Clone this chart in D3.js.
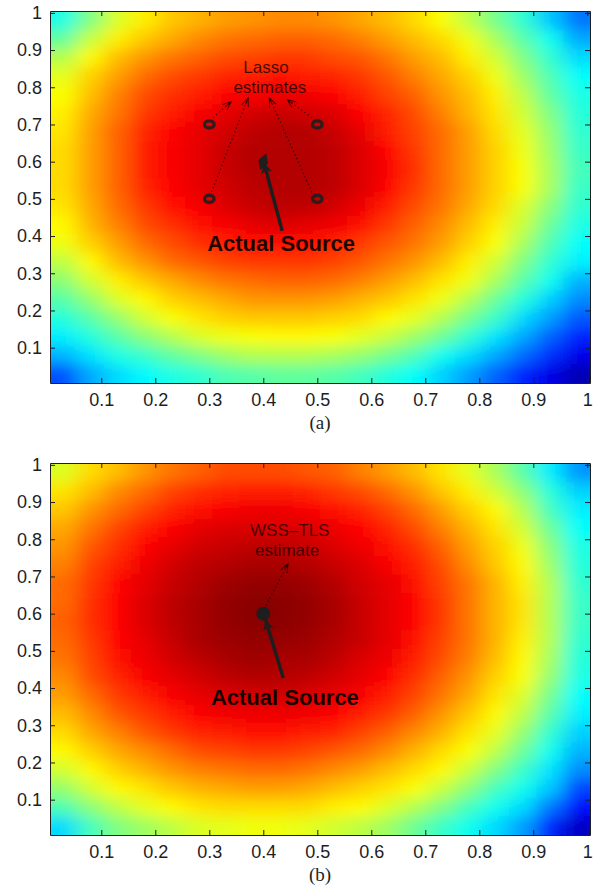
<!DOCTYPE html>
<html>
<head>
<meta charset="utf-8">
<script src="https://cdn.jsdelivr.net/npm/d3@7"></script>
<style>
  body { margin: 0; background: #fff; }
</style>
</head>
<body>
<svg></svg>
<script>
const width = 602;
const height = 896;
const plotLeft = 50;
const plotWidth = 540;
const plotHeight = 372;
const panelTops = [11, 463];
const edgePad = 20;

// grid cell centres (x left to right, y top to bottom), cells are 0.05 wide
const xCenters = [0.03, 0.08, 0.13, 0.18, 0.23, 0.28, 0.33, 0.38, 0.43, 0.48, 0.53, 0.58, 0.63, 0.68, 0.73, 0.78, 0.83, 0.88, 0.93, 0.98];
const yCenters = [0.98, 0.93, 0.88, 0.83, 0.78, 0.73, 0.68, 0.63, 0.58, 0.53, 0.48, 0.43, 0.38, 0.33, 0.28, 0.23, 0.18, 0.13, 0.08, 0.03];
const cellSize = 0.05;

const tickValues = [0.1, 0.2, 0.3, 0.4, 0.5, 0.6, 0.7, 0.8, 0.9, 1];
const tickLabels = ["0.1", "0.2", "0.3", "0.4", "0.5", "0.6", "0.7", "0.8", "0.9", "1"];

// normalised field, one row per yCenters entry
const fieldA = [
  [0.40, 0.50, 0.59, 0.64, 0.68, 0.70, 0.72, 0.73, 0.74, 0.74, 0.73, 0.71, 0.69, 0.66, 0.62, 0.56, 0.49, 0.42, 0.32, 0.24],
  [0.47, 0.57, 0.64, 0.68, 0.71, 0.74, 0.76, 0.77, 0.78, 0.78, 0.77, 0.75, 0.72, 0.69, 0.66, 0.61, 0.54, 0.46, 0.39, 0.29],
  [0.55, 0.63, 0.69, 0.73, 0.76, 0.78, 0.80, 0.81, 0.82, 0.82, 0.80, 0.79, 0.76, 0.72, 0.69, 0.64, 0.58, 0.50, 0.42, 0.34],
  [0.60, 0.67, 0.72, 0.77, 0.80, 0.82, 0.84, 0.85, 0.86, 0.85, 0.84, 0.82, 0.79, 0.75, 0.71, 0.67, 0.61, 0.53, 0.45, 0.38],
  [0.62, 0.69, 0.75, 0.80, 0.83, 0.85, 0.87, 0.88, 0.89, 0.89, 0.87, 0.85, 0.81, 0.78, 0.73, 0.69, 0.64, 0.56, 0.47, 0.40],
  [0.64, 0.71, 0.76, 0.82, 0.85, 0.88, 0.90, 0.92, 0.93, 0.92, 0.91, 0.87, 0.84, 0.80, 0.75, 0.70, 0.65, 0.58, 0.50, 0.41],
  [0.65, 0.72, 0.78, 0.84, 0.87, 0.90, 0.92, 0.94, 0.95, 0.95, 0.93, 0.90, 0.85, 0.81, 0.77, 0.72, 0.66, 0.60, 0.52, 0.42],
  [0.66, 0.72, 0.78, 0.85, 0.88, 0.90, 0.93, 0.95, 0.95, 0.95, 0.94, 0.91, 0.87, 0.82, 0.77, 0.72, 0.67, 0.61, 0.53, 0.43],
  [0.66, 0.72, 0.78, 0.85, 0.88, 0.90, 0.93, 0.95, 0.95, 0.95, 0.94, 0.91, 0.88, 0.83, 0.77, 0.72, 0.67, 0.62, 0.54, 0.44],
  [0.66, 0.72, 0.78, 0.84, 0.87, 0.90, 0.92, 0.94, 0.95, 0.95, 0.94, 0.91, 0.87, 0.82, 0.77, 0.72, 0.67, 0.62, 0.54, 0.43],
  [0.65, 0.71, 0.77, 0.82, 0.86, 0.88, 0.91, 0.93, 0.94, 0.94, 0.92, 0.89, 0.85, 0.80, 0.76, 0.71, 0.66, 0.59, 0.51, 0.42],
  [0.63, 0.70, 0.75, 0.80, 0.83, 0.86, 0.88, 0.90, 0.91, 0.90, 0.89, 0.86, 0.82, 0.78, 0.74, 0.69, 0.64, 0.57, 0.48, 0.40],
  [0.61, 0.67, 0.72, 0.77, 0.80, 0.83, 0.85, 0.86, 0.86, 0.86, 0.85, 0.82, 0.79, 0.76, 0.72, 0.67, 0.62, 0.54, 0.45, 0.38],
  [0.56, 0.63, 0.69, 0.73, 0.77, 0.79, 0.81, 0.82, 0.82, 0.82, 0.81, 0.79, 0.76, 0.73, 0.69, 0.64, 0.58, 0.50, 0.42, 0.36],
  [0.51, 0.58, 0.64, 0.68, 0.71, 0.74, 0.76, 0.77, 0.78, 0.78, 0.77, 0.75, 0.72, 0.69, 0.65, 0.61, 0.54, 0.46, 0.39, 0.30],
  [0.46, 0.52, 0.59, 0.63, 0.67, 0.69, 0.71, 0.73, 0.73, 0.73, 0.72, 0.70, 0.68, 0.65, 0.61, 0.55, 0.48, 0.41, 0.33, 0.26],
  [0.41, 0.46, 0.52, 0.58, 0.62, 0.65, 0.67, 0.68, 0.68, 0.68, 0.67, 0.66, 0.63, 0.60, 0.55, 0.49, 0.43, 0.34, 0.28, 0.21],
  [0.36, 0.41, 0.46, 0.51, 0.55, 0.59, 0.61, 0.62, 0.63, 0.63, 0.62, 0.60, 0.57, 0.53, 0.48, 0.42, 0.35, 0.29, 0.22, 0.16],
  [0.30, 0.35, 0.40, 0.43, 0.47, 0.50, 0.53, 0.55, 0.55, 0.55, 0.54, 0.52, 0.49, 0.45, 0.39, 0.34, 0.29, 0.23, 0.17, 0.10],
  [0.20, 0.29, 0.34, 0.37, 0.40, 0.42, 0.45, 0.46, 0.47, 0.47, 0.46, 0.44, 0.41, 0.38, 0.33, 0.28, 0.22, 0.16, 0.10, 0.04]
];

// normalised field
const fieldB = [
  [0.59, 0.66, 0.69, 0.73, 0.76, 0.78, 0.80, 0.80, 0.80, 0.79, 0.78, 0.75, 0.72, 0.69, 0.65, 0.60, 0.54, 0.46, 0.36, 0.27],
  [0.65, 0.69, 0.74, 0.77, 0.81, 0.83, 0.84, 0.85, 0.85, 0.84, 0.82, 0.80, 0.77, 0.73, 0.68, 0.64, 0.58, 0.51, 0.41, 0.33],
  [0.68, 0.73, 0.77, 0.81, 0.84, 0.86, 0.88, 0.89, 0.89, 0.88, 0.86, 0.84, 0.81, 0.77, 0.72, 0.67, 0.63, 0.55, 0.44, 0.36],
  [0.71, 0.76, 0.81, 0.85, 0.87, 0.90, 0.91, 0.91, 0.91, 0.91, 0.89, 0.87, 0.84, 0.80, 0.75, 0.70, 0.65, 0.58, 0.48, 0.38],
  [0.73, 0.79, 0.83, 0.87, 0.90, 0.92, 0.93, 0.94, 0.94, 0.93, 0.91, 0.89, 0.86, 0.83, 0.78, 0.72, 0.67, 0.61, 0.51, 0.40],
  [0.75, 0.81, 0.85, 0.89, 0.92, 0.94, 0.95, 0.96, 0.96, 0.95, 0.93, 0.91, 0.88, 0.85, 0.80, 0.74, 0.68, 0.63, 0.53, 0.41],
  [0.77, 0.82, 0.87, 0.90, 0.93, 0.95, 0.97, 0.98, 0.98, 0.97, 0.95, 0.92, 0.90, 0.86, 0.81, 0.76, 0.70, 0.64, 0.55, 0.42],
  [0.77, 0.83, 0.87, 0.91, 0.94, 0.96, 0.98, 0.99, 0.99, 0.98, 0.96, 0.93, 0.90, 0.87, 0.82, 0.76, 0.70, 0.65, 0.55, 0.43],
  [0.78, 0.83, 0.87, 0.91, 0.94, 0.96, 0.98, 0.99, 0.99, 0.98, 0.96, 0.93, 0.90, 0.87, 0.82, 0.76, 0.70, 0.65, 0.55, 0.43],
  [0.77, 0.82, 0.87, 0.90, 0.93, 0.96, 0.97, 0.98, 0.98, 0.97, 0.95, 0.93, 0.90, 0.86, 0.81, 0.76, 0.70, 0.64, 0.55, 0.42],
  [0.76, 0.81, 0.86, 0.89, 0.92, 0.94, 0.96, 0.97, 0.96, 0.96, 0.94, 0.91, 0.89, 0.85, 0.80, 0.75, 0.69, 0.63, 0.54, 0.41],
  [0.74, 0.80, 0.84, 0.88, 0.90, 0.92, 0.94, 0.95, 0.95, 0.94, 0.92, 0.90, 0.87, 0.83, 0.78, 0.73, 0.67, 0.62, 0.52, 0.40],
  [0.72, 0.77, 0.82, 0.85, 0.88, 0.90, 0.91, 0.92, 0.92, 0.91, 0.90, 0.88, 0.85, 0.81, 0.76, 0.71, 0.65, 0.59, 0.49, 0.38],
  [0.69, 0.74, 0.79, 0.82, 0.85, 0.87, 0.89, 0.89, 0.89, 0.89, 0.87, 0.85, 0.82, 0.78, 0.73, 0.68, 0.63, 0.56, 0.46, 0.36],
  [0.66, 0.71, 0.75, 0.79, 0.82, 0.84, 0.85, 0.86, 0.86, 0.85, 0.84, 0.81, 0.78, 0.74, 0.70, 0.65, 0.60, 0.52, 0.42, 0.33],
  [0.63, 0.67, 0.71, 0.74, 0.77, 0.80, 0.81, 0.82, 0.82, 0.81, 0.79, 0.77, 0.74, 0.70, 0.66, 0.62, 0.56, 0.48, 0.39, 0.30],
  [0.58, 0.63, 0.67, 0.70, 0.73, 0.75, 0.76, 0.77, 0.77, 0.76, 0.74, 0.72, 0.69, 0.66, 0.63, 0.57, 0.50, 0.43, 0.35, 0.26],
  [0.52, 0.58, 0.63, 0.65, 0.68, 0.70, 0.71, 0.72, 0.72, 0.71, 0.69, 0.67, 0.65, 0.62, 0.57, 0.51, 0.44, 0.39, 0.32, 0.19],
  [0.45, 0.51, 0.56, 0.60, 0.63, 0.65, 0.66, 0.66, 0.66, 0.66, 0.64, 0.63, 0.59, 0.55, 0.50, 0.44, 0.39, 0.34, 0.24, 0.14],
  [0.34, 0.44, 0.50, 0.53, 0.56, 0.59, 0.60, 0.61, 0.61, 0.60, 0.58, 0.56, 0.53, 0.48, 0.43, 0.39, 0.34, 0.28, 0.16, 0.06]
];

// estimated and true source positions
const lassoX = [0.3, 0.5, 0.3, 0.5];
const lassoY = [0.7, 0.7, 0.5, 0.5];
const sourceX = 0.4;
const sourceY = 0.6;
const panelLabels = ["(a)", "(b)"];

const sans = "'Liberation Sans', Arial, Helvetica, sans-serif";
const serif = "'Liberation Serif', 'Times New Roman', serif";
const ink = "#1e1e1e";

let svg = d3.select("svg").attr("width", width).attr("height", height);

//matlab jet colormap as a piecewise linear scale
const jet = d3
  .scaleLinear()
  .domain([0, 0.125, 0.375, 0.625, 0.875, 1])
  .range(["#00008f", "#0000ff", "#00ffff", "#ffff00", "#ff0000", "#800000"])
  .clamp(true);

const defs = svg.append("defs");

//soften the cell steps a little, the original image is a fine grid
defs
  .append("filter")
  .attr("id", "smooth")
  .attr("x", "-5%")
  .attr("y", "-5%")
  .attr("width", "110%")
  .attr("height", "110%")
  .append("feGaussianBlur")
  .attr("stdDeviation", "10 7");

//small open arrowhead used by the dotted pointers
defs
  .append("marker")
  .attr("id", "chevron")
  .attr("viewBox", "-11 -6 13 12")
  .attr("refX", 0)
  .attr("refY", 0)
  .attr("markerWidth", 13)
  .attr("markerHeight", 12)
  .attr("markerUnits", "userSpaceOnUse")
  .attr("orient", "auto")
  .append("path")
  .attr("d", "M-9,-3.5L0,0L-9,3.5M-7,0L0,0")
  .attr("fill", "none")
  .attr("stroke", "#140000")
  .attr("stroke-opacity", 0.75)
  .attr("stroke-width", 1);

//filled head for the thick "actual source" arrow
defs
  .append("marker")
  .attr("id", "head")
  .attr("viewBox", "-12 -7 14 14")
  .attr("refX", 0)
  .attr("refY", 0)
  .attr("markerWidth", 14)
  .attr("markerHeight", 14)
  .attr("markerUnits", "userSpaceOnUse")
  .attr("orient", "auto")
  .append("path")
  .attr("d", "M0,0L-11,-5.5L-8,0L-11,5.5Z")
  .attr("fill", ink);

const drawField = (g, x, y, field, index) => {
  const top = panelTops[index];
  const last = xCenters.length - 1;

  defs
    .append("clipPath")
    .attr("id", "plot-clip-" + index)
    .append("rect")
    .attr("x", plotLeft)
    .attr("y", top)
    .attr("width", plotWidth)
    .attr("height", plotHeight);

  const cells = g
    .append("g")
    .attr("clip-path", "url(#plot-clip-" + index + ")")
    .append("g")
    .attr("filter", "url(#smooth)");

  //each row of the field is one band of cells; border cells run past the frame so the blur does not fade at the edge
  field.forEach((row, j) => {
    const y0 = y(yCenters[j] + cellSize / 2) - (j === 0 ? edgePad : 0);
    const y1 = y(yCenters[j] - cellSize / 2) + (j === field.length - 1 ? edgePad : 0);
    cells
      .append("g")
      .selectAll("rect")
      .data(row)
      .enter()
      .append("rect")
      .attr("x", (v, i) => x(xCenters[i] - cellSize / 2) - (i === 0 ? edgePad : 0))
      .attr("y", y0)
      .attr("width", (v, i) => x(cellSize) - x(0) + 0.6 + (i === 0 || i === last ? edgePad : 0))
      .attr("height", y1 - y0 + 0.6)
      .attr("fill", (v) => jet(v));
  });
};

const drawAxes = (g, x, y, top) => {
  const fmt = (d, i) => tickLabels[i];
  const styleAxis = (sel) => {
    sel.attr("font-size", 18).attr("font-family", sans);
    sel.selectAll("line, path").attr("stroke", ink).attr("stroke-width", 1);
    sel.selectAll("text").attr("fill", ink);
  };

  //matlab style box: ticks point inwards on all four sides
  g.append("g")
    .attr("transform", "translate(0," + (top + plotHeight) + ")")
    .call(d3.axisBottom(x).tickValues(tickValues).tickFormat(fmt).tickSizeInner(-5).tickSizeOuter(0).tickPadding(10))
    .call(styleAxis);

  g.append("g")
    .attr("transform", "translate(" + plotLeft + ",0)")
    .call(d3.axisLeft(y).tickValues(tickValues).tickFormat(fmt).tickSizeInner(-5).tickSizeOuter(0).tickPadding(8))
    .call(styleAxis);

  g.append("g")
    .attr("transform", "translate(0," + top + ")")
    .call(d3.axisTop(x).tickValues(tickValues).tickFormat("").tickSizeInner(-5).tickSizeOuter(0))
    .call(styleAxis);

  g.append("g")
    .attr("transform", "translate(" + (plotLeft + plotWidth) + ",0)")
    .call(d3.axisRight(y).tickValues(tickValues).tickFormat("").tickSizeInner(-5).tickSizeOuter(0))
    .call(styleAxis);
};

const addText = (g, px, py, str, size, weight, opacity) => {
  g.append("text")
    .attr("x", px)
    .attr("y", py)
    .attr("text-anchor", "middle")
    .attr("font-family", sans)
    .attr("font-size", size)
    .attr("font-weight", weight)
    .attr("fill", "#000")
    .attr("fill-opacity", opacity)
    .text(str);
};

const dottedArrow = (g, x, y, from, to) => {
  g.append("line")
    .attr("x1", x(from[0]))
    .attr("y1", y(from[1]))
    .attr("x2", x(to[0]))
    .attr("y2", y(to[1]))
    .attr("stroke", "#140000")
    .attr("stroke-opacity", 0.75)
    .attr("stroke-width", 1.1)
    .attr("stroke-dasharray", "1.5,2.5")
    .attr("marker-end", "url(#chevron)");
};

const sourceArrow = (g, x, y, from, to) => {
  g.append("line")
    .attr("x1", x(from[0]))
    .attr("y1", y(from[1]))
    .attr("x2", x(to[0]))
    .attr("y2", y(to[1]))
    .attr("stroke", ink)
    .attr("stroke-width", 3.5)
    .attr("marker-end", "url(#head)");
};

const drawPanel = (index, field) => {
  const top = panelTops[index];
  //imagesc style limits, half a grid step past 0 and 1
  const x = d3.scaleLinear().domain([0.005, 1.005]).range([plotLeft, plotLeft + plotWidth]);
  const y = d3.scaleLinear().domain([0.005, 1.005]).range([top + plotHeight, top]);

  const g = svg.append("g");
  drawField(g, x, y, field, index);
  drawAxes(g, x, y, top);

  g.append("text")
    .attr("x", x(0.505))
    .attr("y", top + plotHeight + 46)
    .attr("text-anchor", "middle")
    .attr("font-family", serif)
    .attr("font-size", 19)
    .attr("fill", ink)
    .text(panelLabels[index]);

  const notes = g.append("g");

  if (index === 0) {
    addText(notes, x(0.405), y(0.838), "Lasso", 17, "normal", 0.75);
    addText(notes, x(0.412), y(0.784), "estimates", 17, "normal", 0.75);

    //dotted pointers from each lasso estimate up to the label
    const tips = [[0.341, 0.762], [0.372, 0.772], [0.411, 0.772], [0.444, 0.767]];
    const starts = [[0.307, 0.718], [0.304, 0.518], [0.49, 0.518], [0.49, 0.718]];
    starts.forEach((s, i) => dottedArrow(notes, x, y, s, tips[i]));

    notes
      .selectAll("ellipse")
      .data(lassoX)
      .enter()
      .append("ellipse")
      .attr("cx", (d) => x(d))
      .attr("cy", (d, i) => y(lassoY[i]))
      .attr("rx", 4.8)
      .attr("ry", 3.6)
      .attr("fill", "none")
      .attr("stroke", ink)
      .attr("stroke-opacity", 0.9)
      .attr("stroke-width", 3.4);

    sourceArrow(notes, x, y, [0.435, 0.414], [0.401, 0.598]);
    notes
      .append("path")
      .attr("d", d3.symbol().type(d3.symbolDiamond).size(90)())
      .attr("transform", "translate(" + x(sourceX) + "," + y(sourceY) + ") rotate(20)")
      .attr("fill", ink);

    addText(notes, x(0.433), y(0.361), "Actual Source", 22, "bold", 0.88);
  } else {
    addText(notes, x(0.449), y(0.808), "WSS\u2013TLS", 17, "normal", 0.7);
    addText(notes, x(0.444), y(0.754), "estimate", 17, "normal", 0.7);

    dottedArrow(notes, x, y, [0.405, 0.622], [0.446, 0.735]);
    sourceArrow(notes, x, y, [0.437, 0.427], [0.404, 0.585]);

    notes
      .append("circle")
      .attr("cx", x(sourceX))
      .attr("cy", y(sourceY))
      .attr("r", 7)
      .attr("fill", ink);

    addText(notes, x(0.44), y(0.354), "Actual Source", 22, "bold", 0.88);
  }
};

drawPanel(0, fieldA);
drawPanel(1, fieldB);
</script>
</body>
</html>
